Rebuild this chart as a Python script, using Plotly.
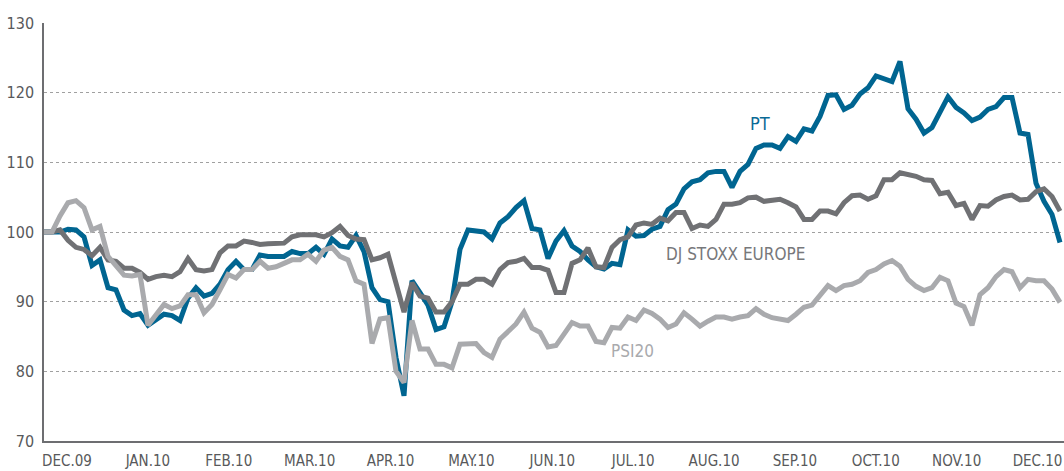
import plotly.graph_objects as go

# sample index (each step ~ 2 trading days), values rebased to 100
months = ["DEC.09", "JAN.10", "FEB.10", "MAR.10", "APR.10", "MAY.10", "JUN.10",
          "JUL.10", "AUG.10", "SEP.10", "OCT.10", "NOV.10", "DEC.10"]

pt = [100, 100, 100, 100.4, 100.3, 99.3, 95.2, 96, 92, 91.7,
      88.8, 88, 88.3, 86.6, 87.3, 88.2, 88, 87.3, 90.5, 92,
      90.8, 91.2, 92.5, 94.6, 95.8, 94.6, 94.6, 96.7, 96.5, 96.5,
      96.5, 97.2, 96.9, 96.9, 97.8, 96.8, 99, 98, 97.8, 99.5,
      97.2, 92, 90.3, 90, 82, 76.5, 93, 91.3, 89.5, 86,
      86.4, 90, 97.5, 100.3, 100.2, 100, 99, 101.3, 102.2, 103.5,
      104.5, 100.5, 100.3, 96.2, 98.7, 100.2, 98, 97.2, 96, 95,
      94.7, 95.5, 95.3, 100.3, 99.4, 99.5, 100.4, 100.8, 103.2, 104,
      106.2, 107.2, 107.5, 108.5, 108.7, 108.7, 106.4, 108.7, 109.7, 112,
      112.5, 112.5, 112, 113.7, 113, 114.8, 114.5, 116.6, 119.6, 119.7,
      117.6, 118.2, 119.8, 120.7, 122.4, 122, 121.6, 124.5, 117.7, 116.2,
      114.2, 115, 117.3, 119.4, 117.9, 117.1, 116, 116.5, 117.6, 118,
      119.3, 119.3, 114.2, 114, 107, 104.4, 102.5, 98.5]

dj_stoxx = [100, 100, 100.3, 98.8, 97.8, 97.5, 96.6, 97.8, 96, 95.8,
            94.8, 94.8, 94.2, 93.2, 93.6, 93.8, 93.6, 94.3, 96.2, 94.6,
            94.4, 94.6, 97, 98, 98, 98.7, 98.5, 98.2, 98.3, 98.4,
            98.4, 99.3, 99.6, 99.6, 99.6, 99.3, 99.9, 100.8, 99.5, 99,
            98.9, 96, 96.3, 96.8, 92.5, 88.5, 92.7, 90.8, 90.5, 88.5,
            88.5, 90, 92.5, 92.5, 93.2, 93.2, 92.5, 94.6, 95.6, 95.8,
            96.2, 94.9, 94.9, 94.5, 91.3, 91.3, 95.5, 96, 97.7, 95,
            94.9, 97.8, 98.9, 99.3, 101, 101.3, 101.1, 102, 101.6, 102.8,
            102.8, 100.5, 101, 100.8, 101.8, 104, 104, 104.2, 104.9, 105,
            104.4, 104.5, 104.7, 104.2, 103.6, 101.8, 101.8, 103, 103, 102.6,
            104.2, 105.2, 105.3, 104.7, 105.2, 107.5, 107.5, 108.5, 108.3, 108,
            107.5, 107.4, 105.5, 105.7, 103.8, 104.1, 101.8, 103.8, 103.7, 104.6,
            105.1, 105.3, 104.6, 104.7, 105.8, 106.2, 105.1, 103]

psi20 = [100, 100, 102.3, 104.2, 104.5, 103.5, 100.3, 100.8, 96.5, 95.2,
         93.8, 93.7, 93.9, 86.6, 88, 89.6, 89, 89.4, 91, 91,
         88.4, 89.6, 91.7, 93.9, 93.4, 94.6, 94.6, 95.8, 94.8, 95,
         95.5, 96, 96, 96.8, 95.8, 97.4, 97.8, 96.5, 96, 93,
         92.5, 84, 87.5, 87.7, 80, 78.4, 87.3, 83.2, 83.2, 81,
         81, 80.5, 83.9, 83.9, 84, 82.7, 82, 84.6, 85.8, 86.8,
         88.5, 86.2, 85.6, 83.5, 83.7, 85.5, 87, 86.5, 86.5, 84.3,
         84.1, 86.3, 86.2, 87.8, 87.3, 88.8, 88.3, 87.5, 86.3, 86.8,
         88.4, 87.5, 86.5, 87.2, 87.8, 87.8, 87.5, 87.8, 88, 89,
         88.2, 87.7, 87.5, 87.3, 88.2, 89.2, 89.5, 91, 92.3, 91.6,
         92.3, 92.5, 93, 94.2, 94.6, 95.4, 95.9, 95.1, 93.2, 92.2,
         91.6, 92, 93.5, 93, 89.8, 89.3, 86.6, 91, 92, 93.6,
         94.6, 94.3, 92, 93.2, 93, 93, 91.8, 89.9]

idx = list(range(len(pt)))
samples_per_month = 10.11
first_tick = 2.875
tickvals = [first_tick + samples_per_month * k for k in range(len(months))]

BLUE = "#006591"
DARK = "#707174"
LIGHT = "#a9aaad"
FONT = "Liberation Sans Narrow, DejaVu Sans Condensed, Arial Narrow, sans-serif"

fig = go.Figure()
fig.add_trace(go.Scatter(x=idx, y=pt, mode="lines", name="PT",
                         line=dict(color=BLUE, width=5)))
fig.add_trace(go.Scatter(x=idx, y=dj_stoxx, mode="lines", name="DJ STOXX EUROPE",
                         line=dict(color=DARK, width=5)))
fig.add_trace(go.Scatter(x=idx, y=psi20, mode="lines", name="PSI20",
                         line=dict(color=LIGHT, width=5)))

fig.add_annotation(x=89.5, y=115.6, text="PT", showarrow=False,
                   font=dict(family=FONT, size=18, color="#0a6a96"))
fig.add_annotation(x=86.4, y=96.8, text="DJ STOXX EUROPE", showarrow=False,
                   font=dict(family=FONT, size=17, color="#77787b"))
fig.add_annotation(x=73.6, y=82.9, text="PSI20", showarrow=False,
                   font=dict(family=FONT, size=17, color="#a9aaad"))

fig.update_layout(
    width=1064, height=471,
    margin=dict(l=44, r=0, t=23, b=30),
    paper_bgcolor="white", plot_bgcolor="white",
    showlegend=False,
    font=dict(family=FONT, color="#58595b"),
)
fig.update_xaxes(range=[0, 127.5], tickvals=tickvals, ticktext=months,
                 showgrid=False, zeroline=False, showline=True,
                 linecolor="#6d6e71", linewidth=1.5, ticks="",
                 automargin=False, ticklabelstandoff=5,
                 tickfont=dict(family=FONT, size=15, color="#58595b"))
fig.update_yaxes(range=[70, 130], tickvals=[70, 80, 90, 100, 110, 120, 130],
                 showgrid=True, gridcolor="#a0a0a0", griddash="dot", gridwidth=1,
                 zeroline=False, showline=True, linecolor="#6d6e71", linewidth=1.5,
                 ticks="", ticklabelstandoff=5, automargin=False,
                 tickfont=dict(family=FONT, size=16, color="#58595b"))

fig.write_html("out.html", config={"displayModeBar": False},
               post_script="document.body.style.margin='0';document.body.style.padding='0';document.body.style.overflow='hidden';")
